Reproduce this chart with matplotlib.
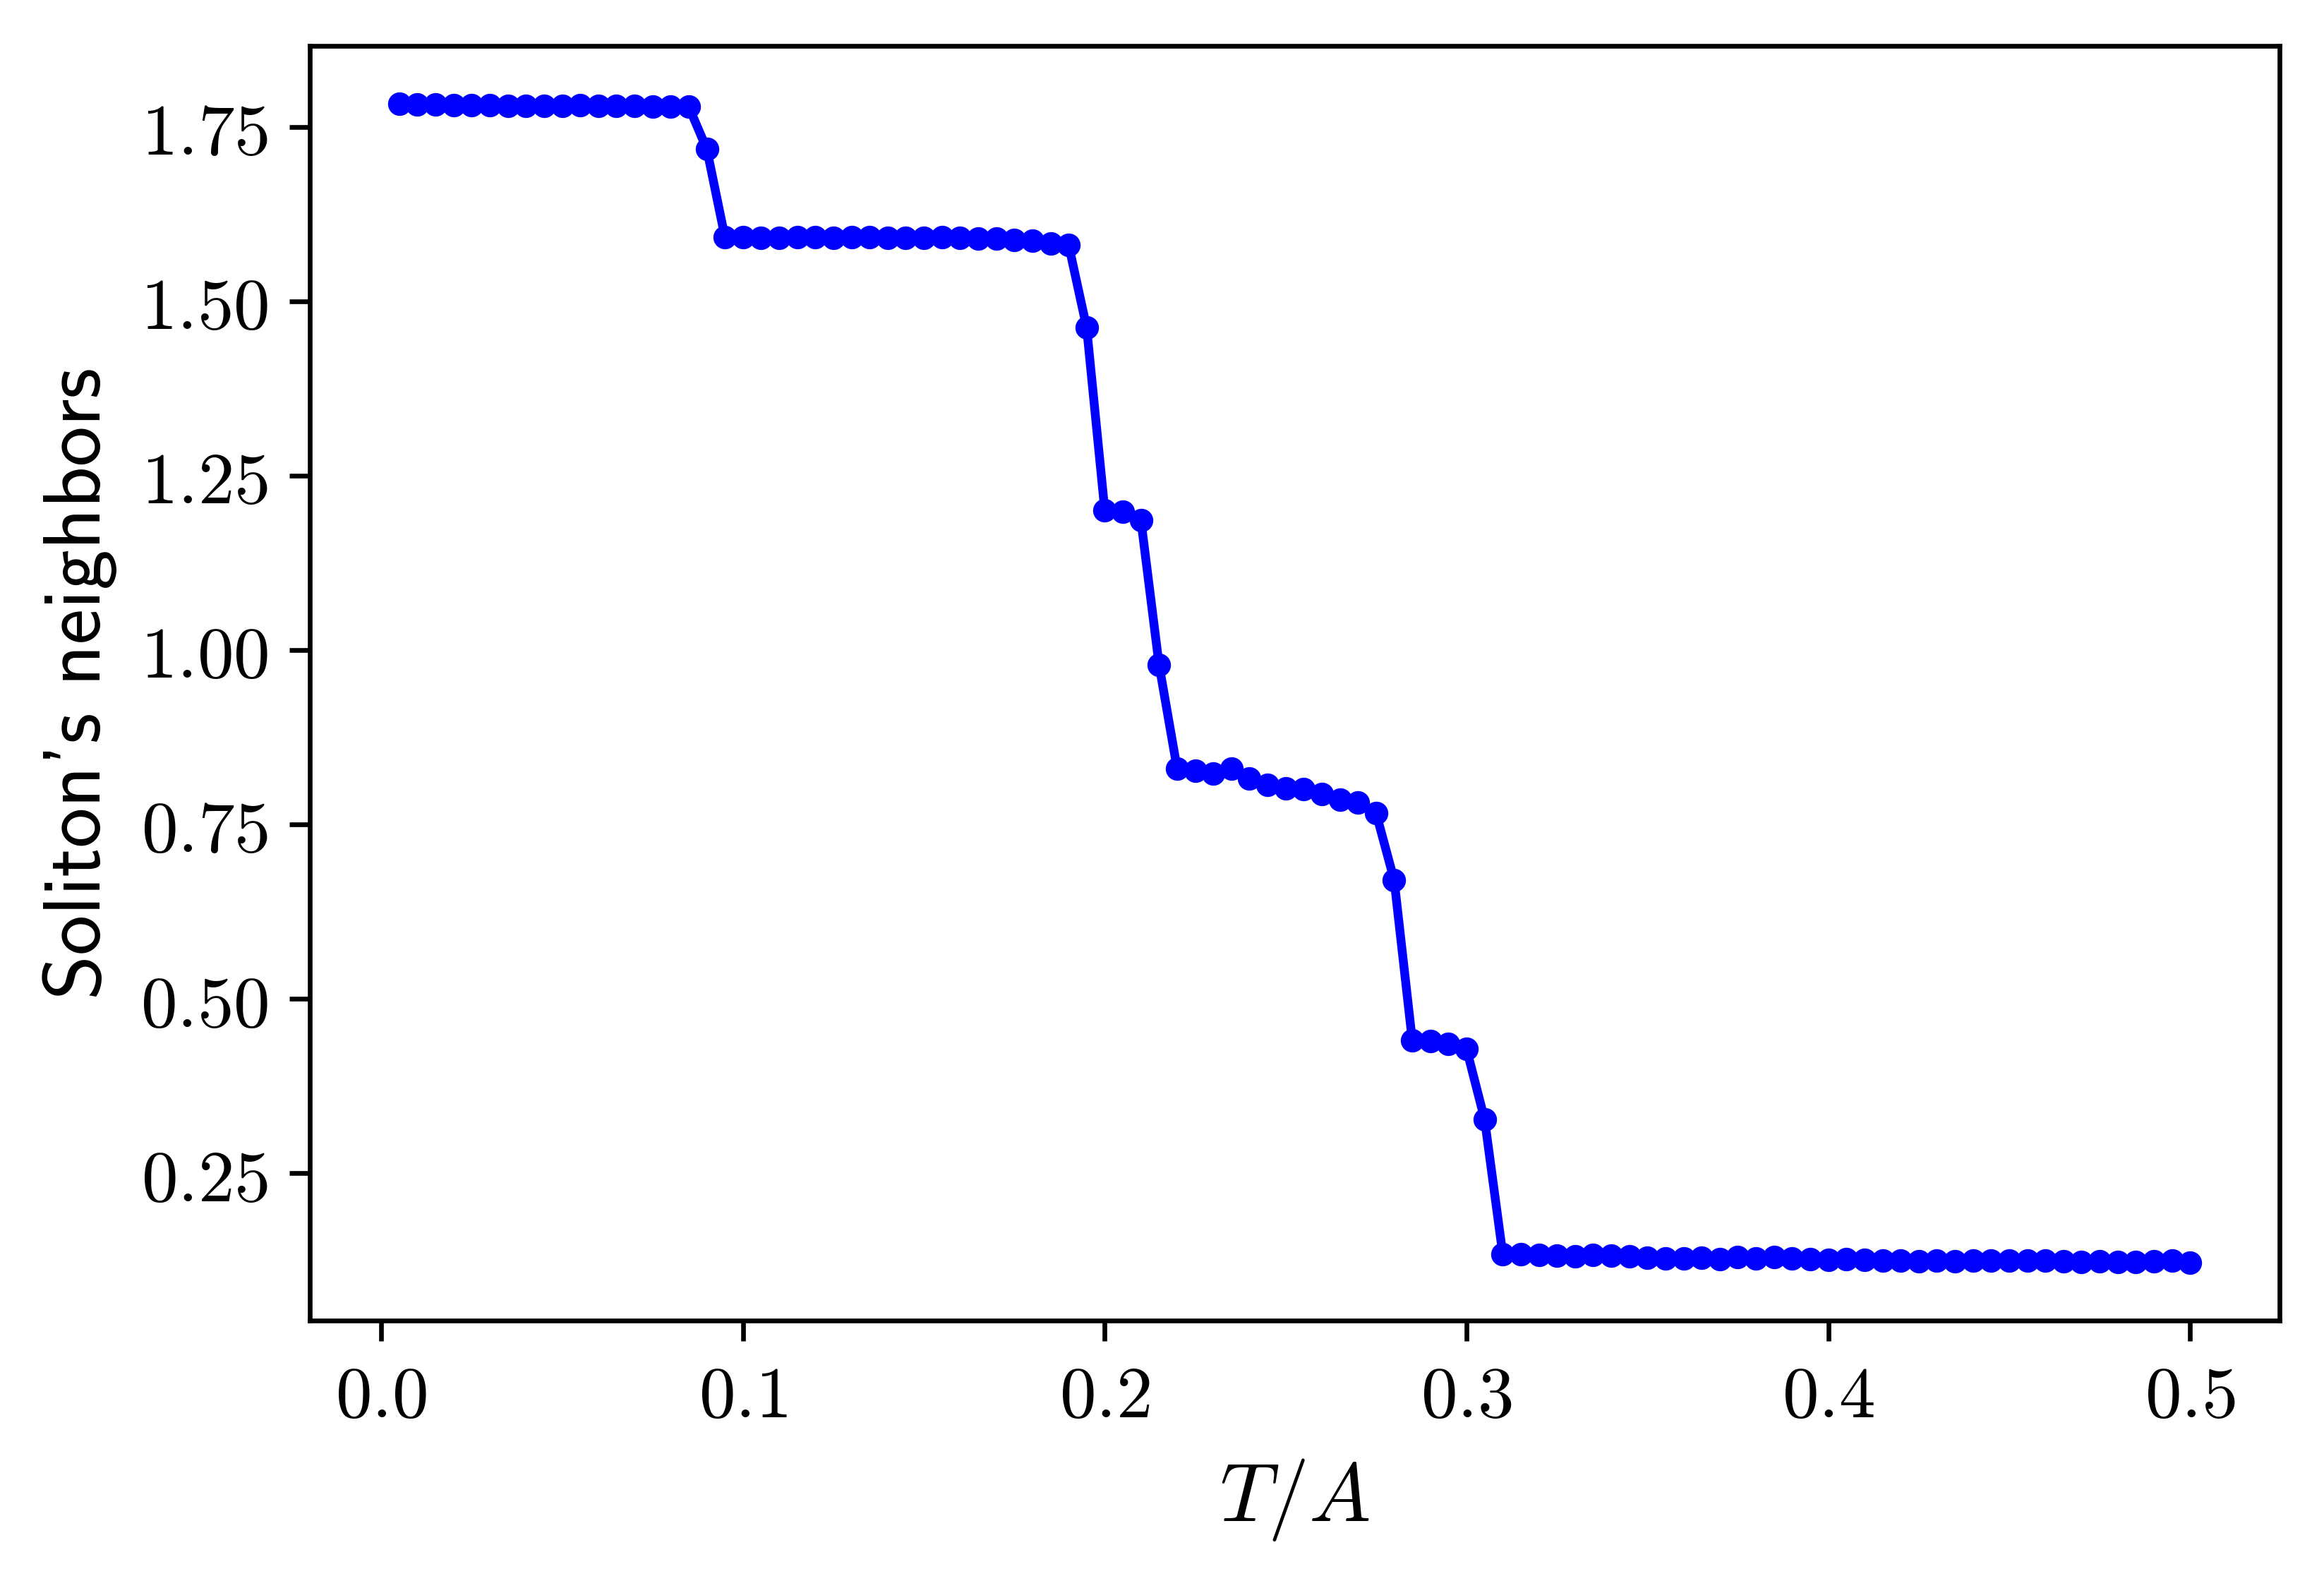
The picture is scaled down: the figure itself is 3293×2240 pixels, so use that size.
import numpy as np
import matplotlib

matplotlib.use("Agg")
import matplotlib.pyplot as plt
from matplotlib.ticker import FuncFormatter

plt.rcParams["mathtext.fontset"] = "cm"

# temperature grid T/A = 0.005 ... 0.5
T_OVER_A = np.round(np.arange(1, 101) * 0.005, 3)

NEIGHBORS = [
    # 0.005 - 0.085
    1.783, 1.782, 1.782, 1.781, 1.781, 1.781, 1.780, 1.780, 1.780, 1.780,
    1.781, 1.780, 1.780, 1.780, 1.779, 1.779, 1.779,
    # 0.09
    1.718,
    # 0.095 - 0.19
    1.592, 1.592, 1.591, 1.591, 1.592, 1.592, 1.591, 1.592, 1.592, 1.591,
    1.591, 1.591, 1.592, 1.591, 1.590, 1.590, 1.588, 1.587, 1.583, 1.581,
    # 0.195 - 0.215
    1.462, 1.200, 1.198, 1.186, 0.979,
    # 0.22 - 0.275
    0.830, 0.827, 0.823, 0.830, 0.816, 0.807, 0.802, 0.801, 0.793, 0.785,
    0.781, 0.766,
    # 0.28 - 0.305
    0.670, 0.440, 0.439, 0.435, 0.428, 0.327,
    # 0.31 - 0.5
    0.1340, 0.1333, 0.1327, 0.1316, 0.1306, 0.1327, 0.1316, 0.1306, 0.1290,
    0.1273, 0.1273, 0.1283, 0.1266, 0.1300, 0.1276, 0.1293, 0.1273, 0.1266,
    0.1259, 0.1266, 0.1259, 0.1249, 0.1243, 0.1236, 0.1249, 0.1236, 0.1243,
    0.1249, 0.1249, 0.1243, 0.1249, 0.1239, 0.1226, 0.1236, 0.1222, 0.1226,
    0.1239, 0.1243, 0.1216,
]

fig = plt.figure(figsize=(3293 / 600, 2240 / 600), dpi=600)
ax = fig.add_axes([0.1333, 0.1647, 0.9809 - 0.1333, 0.971 - 0.1647])

ax.plot(T_OVER_A, NEIGHBORS, "b.-")

ax.set_xticks([0.0, 0.1, 0.2, 0.3, 0.4, 0.5])
ax.set_yticks([0.25, 0.5, 0.75, 1.0, 1.25, 1.5, 1.75])
ax.xaxis.set_major_formatter(FuncFormatter(lambda v, p: f"${v:.1f}$"))
ax.yaxis.set_major_formatter(FuncFormatter(lambda v, p: f"${v:.2f}$"))
ax.tick_params(labelsize=12.4)

ax.set_xlabel(r"$T/A$", fontsize=14)
ax.set_ylabel("Soliton's neighbors", fontsize=13.7, family="cmss10")

fig.savefig("out.png", dpi=600)
